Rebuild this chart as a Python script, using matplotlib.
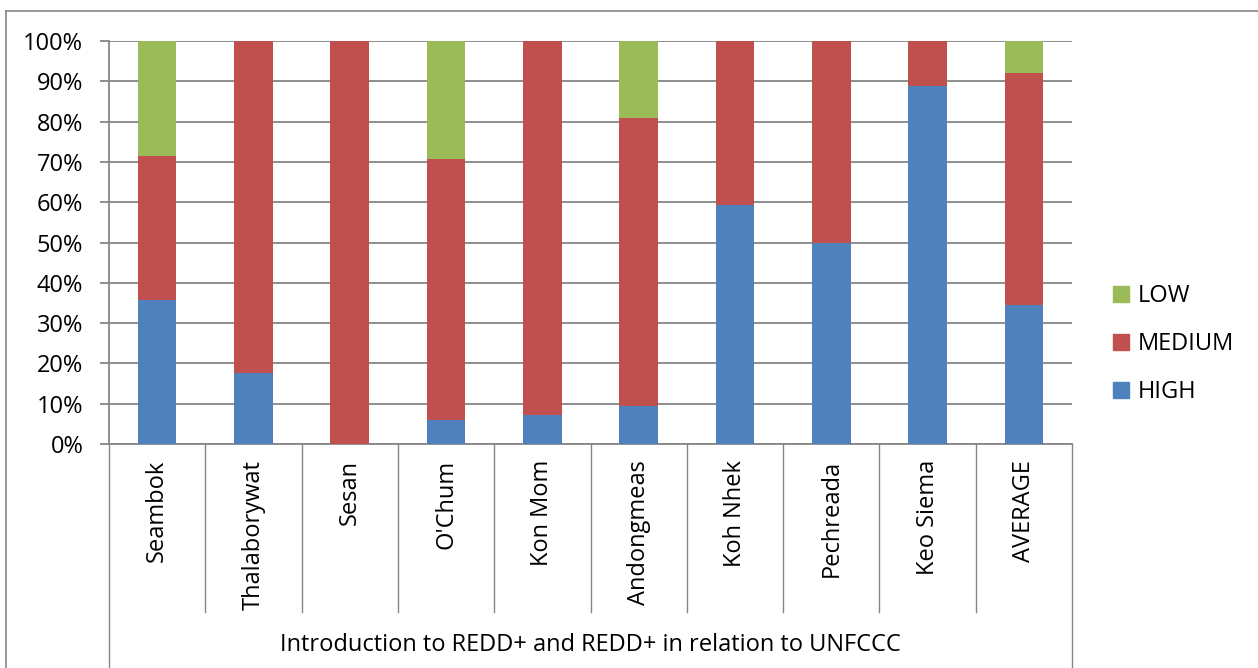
import matplotlib
matplotlib.use("Agg")
import matplotlib.pyplot as plt
from matplotlib.lines import Line2D
from matplotlib.patches import Patch
import matplotlib.transforms as mtransforms
import numpy as np

plt.rcParams['font.family'] = ['Open Sans', 'DejaVu Sans']

sites = ["Seambok", "Thalaborywat", "Sesan", "O'Chum", "Kon Mom",
         "Andongmeas", "Koh Nhek", "Pechreada", "Keo Siema", "AVERAGE"]
high = [35.7, 17.6, 0.0, 5.9, 7.1, 9.5, 59.3, 50.0, 88.9, 34.4]
medium = [35.7, 82.4, 100.0, 64.7, 92.9, 71.4, 40.7, 50.0, 11.1, 57.7]
low = [28.6, 0.0, 0.0, 29.4, 0.0, 19.0, 0.0, 0.0, 0.0, 7.9]
topic = "Introduction to REDD+ and REDD+ in relation to UNFCCC"
yticks = list(range(0, 101, 10))

c_high, c_med, c_low = "#4F81BD", "#C0504D", "#9BBB59"
grid_c = "#868686"
W, H = 1258, 668

fig = plt.figure(figsize=(W / 100, H / 100), dpi=100)
ax = fig.add_axes([109 / W, 1 - 444 / H, (1072 - 109) / W, (444 - 41) / H])

x = np.arange(len(sites))
bw = 0.4
ax.bar(x, high, bw, color=c_high, zorder=3, label="HIGH")
ax.bar(x, medium, bw, bottom=high, color=c_med, zorder=3, label="MEDIUM")
ax.bar(x, low, bw, bottom=np.add(high, medium), color=c_low, zorder=3, label="LOW")

ax.set_xlim(-0.5, len(sites) - 0.5)
ax.set_ylim(0, 100)
ax.set_yticks(yticks)
ax.set_yticklabels([f"{v}%" for v in yticks], fontsize=17)
ax.yaxis.grid(True, color=grid_c, lw=1.3, zorder=0)
ax.tick_params(axis='y', length=6.5, width=1.3, color=grid_c, pad=12)
ax.set_xticks([])
for s in ["top", "right"]:
    ax.spines[s].set_visible(False)
for s in ["left", "bottom"]:
    ax.spines[s].set_color(grid_c)
    ax.spines[s].set_linewidth(1.3)

# category dividers and labels below the axis
tr = mtransforms.blended_transform_factory(ax.transData, ax.transAxes)
inner_bot = (444 - 612) / (444 - 41)
outer_bot = (444 - 668) / (444 - 41)
for i in range(len(sites) + 1):
    xb = i - 0.5
    yb = outer_bot if i in (0, len(sites)) else inner_bot
    ax.add_line(Line2D([xb, xb], [0, yb], transform=tr, color=grid_c,
                       lw=1.0, clip_on=False))
for i, name in enumerate(sites):
    ax.text(i, (444 - 460) / (444 - 41), name, rotation=90, transform=tr,
            ha='center', va='top', fontsize=17)
ax.text(0.5, (444 - 645) / (444 - 41), topic, transform=ax.transAxes,
        ha='center', va='center', fontsize=17)

# legend
handles = [Patch(color=c_low, label="LOW"), Patch(color=c_med, label="MEDIUM"),
           Patch(color=c_high, label="HIGH")]
fig.legend(handles=handles, loc='center left', bbox_to_anchor=(1113 / W, 1 - 344 / H),
           frameon=False, fontsize=17, handlelength=0.68, handleheight=0.68,
           handletextpad=0.35, labelspacing=1.02, borderaxespad=0, borderpad=0)

# chart frame
fig.add_artist(Line2D([6 / W, 1], [1 - 11 / H, 1 - 11 / H], color=grid_c, lw=1.2,
                      transform=fig.transFigure))
fig.add_artist(Line2D([6 / W, 6 / W], [0, 1 - 11 / H], color=grid_c, lw=1.2,
                      transform=fig.transFigure))

fig.savefig("out.png", dpi=100, facecolor="white")
